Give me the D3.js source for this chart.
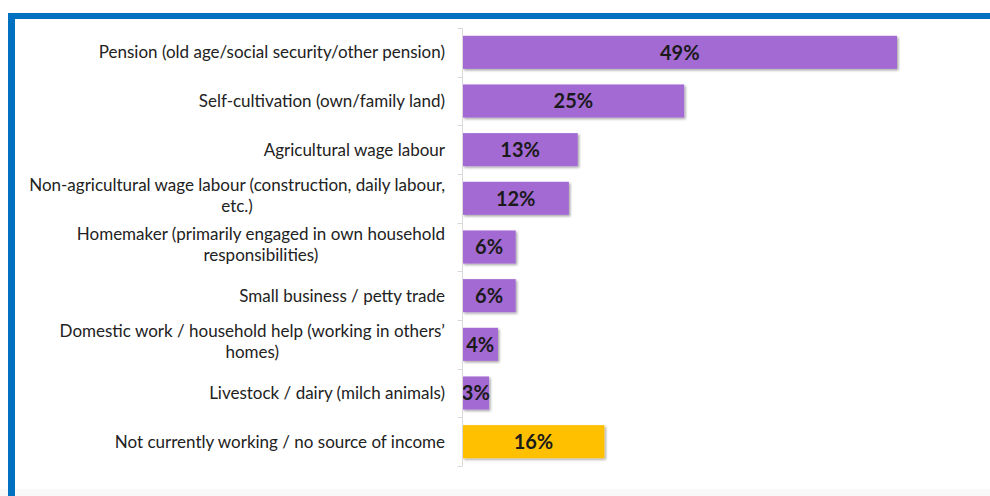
<!DOCTYPE html>
<html>
<head>
<meta charset="utf-8">
<script src="https://cdn.jsdelivr.net/npm/d3@7"></script>
<style>
  html, body { margin: 0; padding: 0; background: #fff; }
  svg { display: block; }
</style>
</head>
<body>
<svg id="chart" width="990" height="496"></svg>
<script>
// Main source of income / livelihood categories (label lines) and shares in percent
const categories = [
  ["Pension (old age/social security/other pension)"],
  ["Self-cultivation (own/family land)"],
  ["Agricultural wage labour"],
  ["Non-agricultural wage labour (construction, daily labour,", "etc.)"],
  ["Homemaker (primarily engaged in own household", "responsibilities)"],
  ["Small business / petty trade"],
  ["Domestic work / household help (working in others\u2019", "homes)"],
  ["Livestock / dairy (milch animals)"],
  ["Not currently working / no source of income"]
];
const values = [49, 25, 13, 12, 6, 6, 4, 3, 16];
const barColors = ["#A46BD3", "#A46BD3", "#A46BD3", "#A46BD3", "#A46BD3", "#A46BD3", "#A46BD3", "#A46BD3", "#FFC000"];

const svg = d3.select("#chart");
const W = 990, H = 496;

// faint grey strip along the bottom edge
svg.append("rect").attr("x", 0).attr("y", 489).attr("width", W).attr("height", 7).attr("fill", "#f9f9f9");

// blue frame on top and left
svg.append("rect").attr("x", 8).attr("y", 13).attr("width", W - 8).attr("height", 6).attr("fill", "#0070C0");
svg.append("rect").attr("x", 8).attr("y", 13).attr("width", 7).attr("height", H - 13).attr("fill", "#0070C0");

const x0 = 462.5;
const x = d3.scaleLinear().domain([0, 49]).range([x0, 897]);
const y = d3.scaleBand().domain(d3.range(categories.length)).range([28, 466]).paddingInner(0.32).paddingOuter(0.16);

const defs = svg.append("defs");
const f = defs.append("filter").attr("id", "shadow").attr("x", "-10%").attr("y", "-20%").attr("width", "130%").attr("height", "160%");
f.append("feDropShadow").attr("dx", 1.5).attr("dy", 1.5).attr("stdDeviation", 1.2).attr("flood-color", "#000").attr("flood-opacity", 0.35);

const g = svg.append("g");

// bars
g.selectAll("rect.bar").data(values).join("rect")
  .attr("class", "bar")
  .attr("x", x(0))
  .attr("y", (d, i) => y(i))
  .attr("width", d => x(d) - x(0))
  .attr("height", y.bandwidth())
  .attr("fill", (d, i) => barColors[i])
  .attr("filter", "url(#shadow)");

// value labels
g.selectAll("text.val").data(values).join("text")
  .attr("class", "val")
  .attr("x", d => (x(0) + x(d)) / 2)
  .attr("y", (d, i) => y(i) + y.bandwidth() / 2)
  .attr("dy", "0.36em")
  .attr("text-anchor", "middle")
  .attr("font-family", "Lato, sans-serif")
  .attr("font-weight", 700)
  .attr("font-size", 20)
  .attr("fill", "#1a1a1a")
  .text(d => d + "%");

// category axis: vertical line with outward ticks at band boundaries
const axis = svg.append("g").attr("stroke", "#d9d9d9").attr("stroke-width", 1);
axis.append("line").attr("x1", x0).attr("x2", x0).attr("y1", 28).attr("y2", 466);
d3.range(categories.length + 1).forEach(i => {
  const yy = Math.round(28 + i * y.step()) + 0.5;
  axis.append("line").attr("x1", x0 - 5).attr("x2", x0).attr("y1", yy).attr("y2", yy);
});

// category labels, right aligned; a wrapped second line sits centred under the first
const lineH = 21;
const labelX = 445;
const lab = svg.append("g")
  .attr("font-family", "Lato, sans-serif")
  .attr("font-size", 17)
  .attr("fill", "#222");
categories.forEach((lines, i) => {
  const cy = y(i) + y.bandwidth() / 2 - (lines.length > 1 ? 3 : 0);
  const t = lab.append("text").attr("y", cy - (lines.length - 1) * lineH / 2);
  const first = t.append("tspan").attr("x", labelX).attr("dy", "0.36em").attr("text-anchor", "end").text(lines[0]);
  if (lines.length > 1) {
    const w0 = first.node().getComputedTextLength();
    t.append("tspan").attr("x", labelX - w0 / 2).attr("dy", lineH).attr("text-anchor", "middle").text(lines[1]);
  }
});
</script>
</body>
</html>
